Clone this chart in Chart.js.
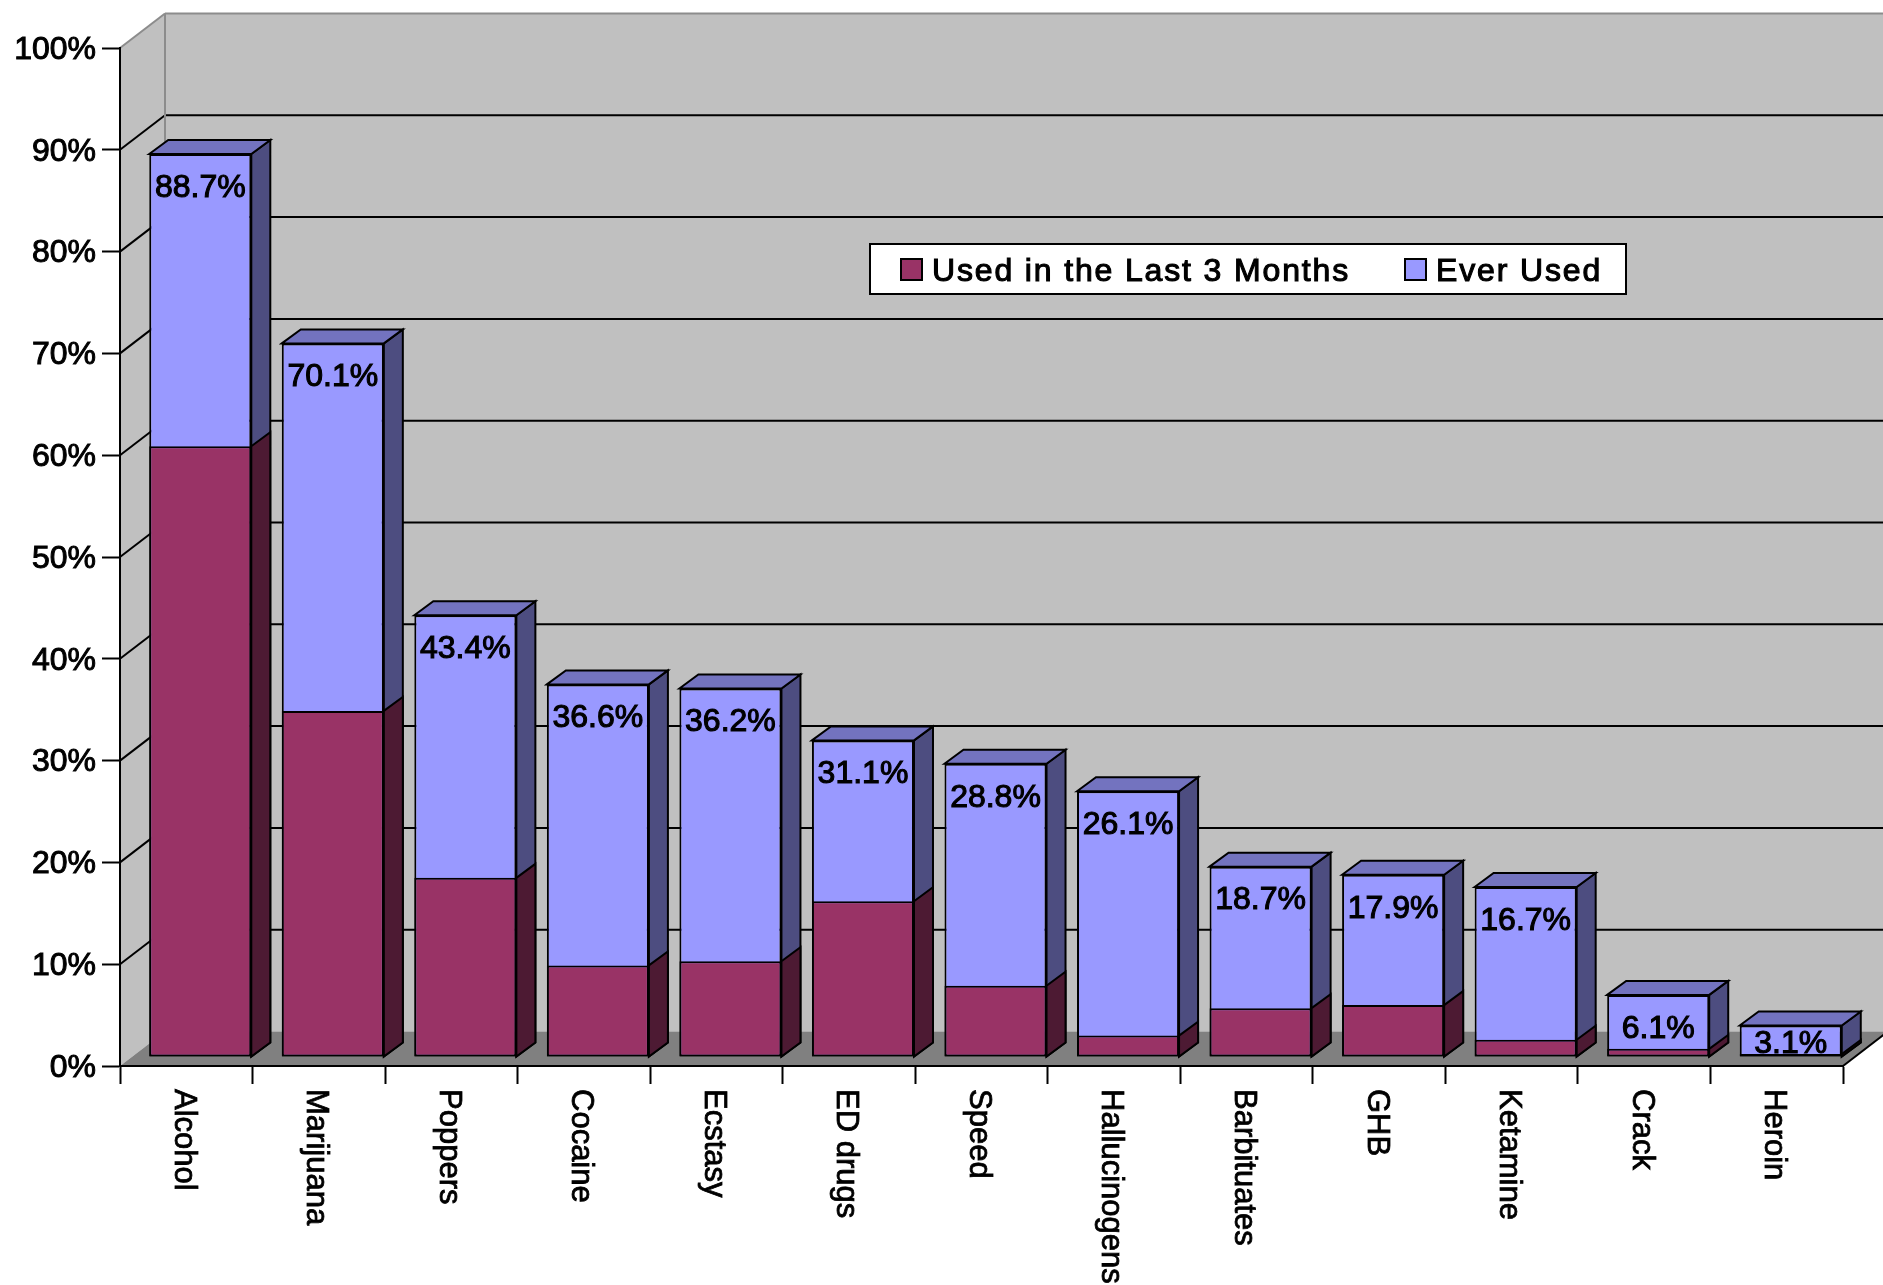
<!DOCTYPE html>
<html>
<head>
<meta charset="utf-8">
<title>Substance use</title>
<style>html,body{margin:0;padding:0;background:#fff}canvas{display:block}</style>
<script src="https://cdn.jsdelivr.net/npm/chart.js@4"></script>
</head>
<body>
<canvas id="chart" width="1883" height="1285"></canvas>
<script>
const categories = ['Alcohol','Marijuana','Poppers','Cocaine','Ecstasy','ED drugs','Speed','Hallucinogens','Barbituates','GHB','Ketamine','Crack','Heroin'];
const usedLast3Months = [60.0,34.0,17.6,9.0,9.4,15.3,7.0,2.1,4.8,5.1,1.7,0.8,0.3];
const everUsed = [88.7,70.1,43.4,36.6,36.2,31.1,28.8,26.1,18.7,17.9,16.7,6.1,3.1];
const percentTicks = [0,10,20,30,40,50,60,70,80,90,100];

const FONT = '"Liberation Sans", Arial, sans-serif';
const WALL = {dx: 45, dy: 34.5};       // depth of the chart box
const BAR_OFFSET = {dx: 14, dy: 9};    // bars stand part-way back on the floor
const BAR_DEPTH = {dx: 19, dy: 14};    // extrusion of each bar
const TEXT_WEIGHT = 1.1;               // stroke added to the regular face

function poly(ctx, pts, fill, stroke, lw) {
  ctx.beginPath();
  pts.forEach((p, i) => i ? ctx.lineTo(p[0], p[1]) : ctx.moveTo(p[0], p[1]));
  ctx.closePath();
  if (fill) { ctx.fillStyle = fill; ctx.fill(); }
  if (stroke) { ctx.strokeStyle = stroke; ctx.lineWidth = lw || 2; ctx.lineJoin = 'miter'; ctx.stroke(); }
}
function seg(ctx, x0, y0, x1, y1, color, lw) {
  ctx.beginPath(); ctx.moveTo(x0, y0); ctx.lineTo(x1, y1);
  ctx.strokeStyle = color; ctx.lineWidth = lw || 2; ctx.stroke();
}

// Walls, floor, gridlines and the floating legend sit behind the bars.
const box3d = {
  id: 'box3d',
  beforeDraw(chart) {
    const {ctx, width, chartArea: a, scales: {x, y}} = chart;
    const top = y.getPixelForValue(100), base = y.getPixelForValue(0);
    const bl = a.left + WALL.dx;
    ctx.save();
    ctx.fillStyle = '#fff';
    ctx.fillRect(0, 0, width, chart.height);
    poly(ctx, [[a.left, top], [bl, top - WALL.dy], [width + 5, top - WALL.dy], [width + 5, base - WALL.dy], [bl, base - WALL.dy], [a.left, base]], '#c0c0c0');
    poly(ctx, [[a.left, base], [bl, base - WALL.dy], [a.right + WALL.dx, base - WALL.dy], [a.right, base]], '#808080');
    percentTicks.forEach(v => {
      if (v === 0) return;
      const py = y.getPixelForValue(v);
      const c = v === 100 ? '#8c8c8c' : '#000';
      seg(ctx, a.left, py, bl, py - WALL.dy, c, 2);
      seg(ctx, bl, py - WALL.dy, width + 5, py - WALL.dy, c, 2);
    });
    seg(ctx, bl, top - WALL.dy, bl, base - WALL.dy, '#8c8c8c', 2);
    seg(ctx, a.right, base, a.right + WALL.dx, base - WALL.dy, '#000', 2);
    drawLegend(chart);
    // Category labels read downward from just under the axis.
    x.getLabelItems().forEach((it, i) => {
      it.options.rotation = Math.PI / 2;
      it.options.textAlign = 'left';
      it.options.textBaseline = 'middle';
      it.options.translation = [x.getPixelForTick(i) - 3, 1089];
      it.textOffset = 0;
    });
    ctx.restore();
  },
  beforeDatasetsDraw(chart) {
    const {ctx} = chart;
    ctx.save();
    ctx.translate(BAR_OFFSET.dx, -BAR_OFFSET.dy);
    const shades = [{side: '#4d1a33'}, {side: '#4d4d80', top: '#7373bf'}];
    [1, 0].forEach(ds => {
      chart.getDatasetMeta(ds).data.forEach(bar => {
        const r = bar.x + bar.width / 2, l = bar.x - bar.width / 2;
        const t = bar.y, b = bar.base, dx = BAR_DEPTH.dx, dy = BAR_DEPTH.dy;
        poly(ctx, [[r, t], [r + dx, t - dy], [r + dx, b - dy], [r, b]], shades[ds].side, '#000', 2);
        if (shades[ds].top) poly(ctx, [[l, t], [l + dx, t - dy], [r + dx, t - dy], [r, t]], shades[ds].top, '#000', 2);
      });
    });
  },
  afterDatasetsDraw(chart) {
    const {ctx, scales: {y}} = chart;
    ctx.restore();
    const floorY = y.getPixelForValue(0) - BAR_OFFSET.dy;
    chart.getDatasetMeta(1).data.forEach((bar, i) => {
      const cx = bar.x + BAR_OFFSET.dx, ty = bar.y - BAR_OFFSET.dy;
      const cy = Math.min(ty + 34, floorY - 13);
      ctx.save();
      ctx.beginPath();
      ctx.rect(bar.x + BAR_OFFSET.dx - bar.width / 2, ty, bar.width, floorY - ty - 1);
      ctx.clip();
      ctx.font = '32px ' + FONT;
      ctx.textAlign = 'center';
      ctx.textBaseline = 'middle';
      ctx.fillStyle = '#000';
      ctx.strokeStyle = '#000';
      ctx.lineWidth = TEXT_WEIGHT;
      const label = everUsed[i].toFixed(1) + '%';
      ctx.fillText(label, cx, cy);
      ctx.strokeText(label, cx, cy);
      ctx.restore();
    });
  }
};

function drawLegend(chart) {
  const {ctx} = chart;
  const sets = chart.data.datasets;
  poly(ctx, [[870, 244], [1626, 244], [1626, 294], [870, 294]], '#fff', '#000', 2);
  const slots = [{sx: 901, tx: 932}, {sx: 1405, tx: 1436}];
  ctx.font = '32px ' + FONT;
  ctx.textAlign = 'left';
  ctx.textBaseline = 'middle';
  ctx.letterSpacing = '1.85px';
  slots.forEach((s, i) => {
    poly(ctx, [[s.sx, 259], [s.sx + 21, 259], [s.sx + 21, 280], [s.sx, 280]], sets[i].backgroundColor, '#000', 2);
    ctx.fillStyle = '#000';
    ctx.strokeStyle = '#000';
    ctx.lineWidth = TEXT_WEIGHT;
    ctx.fillText(sets[i].label, s.tx, 272);
    ctx.strokeText(sets[i].label, s.tx, 272);
  });
  ctx.letterSpacing = '0px';
}

new Chart(document.getElementById('chart'), {
  type: 'bar',
  data: {
    labels: categories,
    datasets: [
      {label: 'Used in the Last 3 Months', data: usedLast3Months, backgroundColor: '#993366', borderColor: '#000', borderWidth: 2, borderSkipped: false, clip: false},
      {label: 'Ever Used', data: everUsed, backgroundColor: '#9999ff', borderColor: '#000', borderWidth: 2, borderSkipped: false, clip: false}
    ]
  },
  options: {
    responsive: false,
    animation: false,
    devicePixelRatio: 1,
    grouped: false,
    barPercentage: 0.77,
    categoryPercentage: 1,
    layout: {padding: {top: 48, right: 40, left: 0, bottom: 0}},
    plugins: {legend: {display: false}, tooltip: {enabled: false}, title: {display: false}},
    scales: {
      x: {
        afterFit: s => { s.height = 219; },
        grid: {drawOnChartArea: false, drawTicks: true, tickLength: 18, tickColor: '#000', tickWidth: 2},
        border: {display: true, color: '#000', width: 2},
        ticks: {autoSkip: false, minRotation: -90, maxRotation: -90, color: '#000', font: {family: FONT, size: 31}, textStrokeColor: '#000', textStrokeWidth: 0.8}
      },
      y: {
        min: 0, max: 100,
        afterFit: s => { s.width = 120; },
        afterBuildTicks: s => { s.ticks = percentTicks.map(value => ({value})); },
        grid: {drawOnChartArea: false, drawTicks: true, tickLength: 18, tickColor: '#000', tickWidth: 2},
        border: {display: true, color: '#000', width: 2},
        ticks: {padding: 6, labelOffset: 2, color: '#000', font: {family: FONT, size: 32}, textStrokeColor: '#000', textStrokeWidth: 1, callback: v => v + '%'}
      }
    }
  },
  plugins: [box3d]
});
</script>
</body>
</html>
